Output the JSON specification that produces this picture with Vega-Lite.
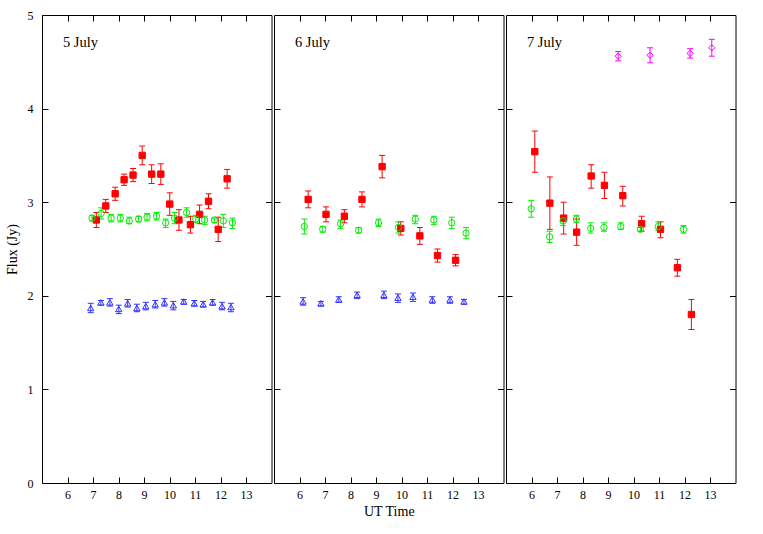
{
  "$schema": "https://vega.github.io/schema/vega-lite/v6.json",
  "background": "white",
  "padding": {"left": 4, "top": 8, "right": 30, "bottom": 5},
  "config": {
    "font": "Liberation Serif",
    "view": {"stroke": "black", "strokeWidth": 1, "fill": "transparent"},
    "axis": {"grid": false, "domain": false, "ticks": true, "tickOpacity": 1, "zindex": 1, "labelFontSize": 12, "labelColor": "black", "titleFontSize": 14, "titleFontWeight": "normal", "titleColor": "black", "tickColor": "black", "tickWidth": 1},
    "legend": {"orient": "none", "legendX": 91, "legendY": 388, "labelAlign": "right", "labelOffset": -30, "symbolSize": 40, "symbolStrokeWidth": 1, "labelFontSize": 12, "labelColor": "black", "rowPadding": 1.7, "padding": 0, "zindex": 1}
  },
  "data": {"values": [
    {"day":"5 July","source":"Sgr A*","t":7.13,"flux":2.81,"lo":2.73,"hi":2.89},
    {"day":"5 July","source":"Sgr A*","t":7.50,"flux":2.96,"lo":2.89,"hi":3.03},
    {"day":"5 July","source":"Sgr A*","t":7.87,"flux":3.09,"lo":3.02,"hi":3.16},
    {"day":"5 July","source":"Sgr A*","t":8.22,"flux":3.24,"lo":3.18,"hi":3.30},
    {"day":"5 July","source":"Sgr A*","t":8.57,"flux":3.29,"lo":3.22,"hi":3.36},
    {"day":"5 July","source":"Sgr A*","t":8.93,"flux":3.50,"lo":3.40,"hi":3.60},
    {"day":"5 July","source":"Sgr A*","t":9.30,"flux":3.30,"lo":3.20,"hi":3.40},
    {"day":"5 July","source":"Sgr A*","t":9.66,"flux":3.30,"lo":3.19,"hi":3.41},
    {"day":"5 July","source":"Sgr A*","t":10.01,"flux":2.98,"lo":2.86,"hi":3.10},
    {"day":"5 July","source":"Sgr A*","t":10.37,"flux":2.81,"lo":2.70,"hi":2.92},
    {"day":"5 July","source":"Sgr A*","t":10.82,"flux":2.76,"lo":2.67,"hi":2.85},
    {"day":"5 July","source":"Sgr A*","t":11.18,"flux":2.87,"lo":2.77,"hi":2.97},
    {"day":"5 July","source":"Sgr A*","t":11.53,"flux":3.01,"lo":2.93,"hi":3.09},
    {"day":"5 July","source":"Sgr A*","t":11.91,"flux":2.71,"lo":2.58,"hi":2.84},
    {"day":"5 July","source":"Sgr A*","t":12.26,"flux":3.25,"lo":3.15,"hi":3.35},
    {"day":"5 July","source":"1741-038","t":6.96,"flux":2.83,"lo":2.80,"hi":2.86},
    {"day":"5 July","source":"1741-038","t":7.32,"flux":2.88,"lo":2.82,"hi":2.94},
    {"day":"5 July","source":"1741-038","t":7.71,"flux":2.83,"lo":2.79,"hi":2.87},
    {"day":"5 July","source":"1741-038","t":8.07,"flux":2.83,"lo":2.79,"hi":2.87},
    {"day":"5 July","source":"1741-038","t":8.42,"flux":2.80,"lo":2.77,"hi":2.84},
    {"day":"5 July","source":"1741-038","t":8.79,"flux":2.82,"lo":2.79,"hi":2.85},
    {"day":"5 July","source":"1741-038","t":9.12,"flux":2.84,"lo":2.80,"hi":2.88},
    {"day":"5 July","source":"1741-038","t":9.49,"flux":2.85,"lo":2.81,"hi":2.89},
    {"day":"5 July","source":"1741-038","t":9.85,"flux":2.78,"lo":2.73,"hi":2.82},
    {"day":"5 July","source":"1741-038","t":10.20,"flux":2.83,"lo":2.77,"hi":2.89},
    {"day":"5 July","source":"1741-038","t":10.67,"flux":2.89,"lo":2.84,"hi":2.94},
    {"day":"5 July","source":"1741-038","t":11.03,"flux":2.82,"lo":2.78,"hi":2.86},
    {"day":"5 July","source":"1741-038","t":11.38,"flux":2.81,"lo":2.76,"hi":2.85},
    {"day":"5 July","source":"1741-038","t":11.76,"flux":2.81,"lo":2.78,"hi":2.83},
    {"day":"5 July","source":"1741-038","t":12.11,"flux":2.80,"lo":2.73,"hi":2.87},
    {"day":"5 July","source":"1741-038","t":12.47,"flux":2.78,"lo":2.72,"hi":2.83},
    {"day":"5 July","source":"1749+096","t":6.91,"flux":1.87,"lo":1.82,"hi":1.92},
    {"day":"5 July","source":"1749+096","t":7.31,"flux":1.93,"lo":1.90,"hi":1.95},
    {"day":"5 July","source":"1749+096","t":7.66,"flux":1.93,"lo":1.89,"hi":1.97},
    {"day":"5 July","source":"1749+096","t":8.01,"flux":1.86,"lo":1.81,"hi":1.90},
    {"day":"5 July","source":"1749+096","t":8.36,"flux":1.92,"lo":1.88,"hi":1.96},
    {"day":"5 July","source":"1749+096","t":8.72,"flux":1.87,"lo":1.83,"hi":1.91},
    {"day":"5 July","source":"1749+096","t":9.07,"flux":1.89,"lo":1.85,"hi":1.93},
    {"day":"5 July","source":"1749+096","t":9.44,"flux":1.91,"lo":1.87,"hi":1.95},
    {"day":"5 July","source":"1749+096","t":9.80,"flux":1.93,"lo":1.89,"hi":1.97},
    {"day":"5 July","source":"1749+096","t":10.15,"flux":1.90,"lo":1.85,"hi":1.94},
    {"day":"5 July","source":"1749+096","t":10.56,"flux":1.94,"lo":1.91,"hi":1.96},
    {"day":"5 July","source":"1749+096","t":10.97,"flux":1.92,"lo":1.89,"hi":1.95},
    {"day":"5 July","source":"1749+096","t":11.32,"flux":1.91,"lo":1.88,"hi":1.94},
    {"day":"5 July","source":"1749+096","t":11.69,"flux":1.93,"lo":1.90,"hi":1.96},
    {"day":"5 July","source":"1749+096","t":12.06,"flux":1.89,"lo":1.85,"hi":1.93},
    {"day":"5 July","source":"1749+096","t":12.41,"flux":1.88,"lo":1.83,"hi":1.92},
    {"day":"6 July","source":"Sgr A*","t":6.34,"flux":3.03,"lo":2.94,"hi":3.12},
    {"day":"6 July","source":"Sgr A*","t":7.04,"flux":2.87,"lo":2.79,"hi":2.95},
    {"day":"6 July","source":"Sgr A*","t":7.76,"flux":2.85,"lo":2.78,"hi":2.92},
    {"day":"6 July","source":"Sgr A*","t":8.45,"flux":3.03,"lo":2.95,"hi":3.11},
    {"day":"6 July","source":"Sgr A*","t":9.24,"flux":3.38,"lo":3.26,"hi":3.50},
    {"day":"6 July","source":"Sgr A*","t":9.97,"flux":2.72,"lo":2.65,"hi":2.79},
    {"day":"6 July","source":"Sgr A*","t":10.72,"flux":2.64,"lo":2.55,"hi":2.73},
    {"day":"6 July","source":"Sgr A*","t":11.41,"flux":2.43,"lo":2.36,"hi":2.50},
    {"day":"6 July","source":"Sgr A*","t":12.12,"flux":2.38,"lo":2.32,"hi":2.44},
    {"day":"6 July","source":"1741-038","t":6.19,"flux":2.74,"lo":2.66,"hi":2.82},
    {"day":"6 July","source":"1741-038","t":6.91,"flux":2.71,"lo":2.68,"hi":2.74},
    {"day":"6 July","source":"1741-038","t":7.61,"flux":2.77,"lo":2.72,"hi":2.81},
    {"day":"6 July","source":"1741-038","t":8.32,"flux":2.70,"lo":2.67,"hi":2.73},
    {"day":"6 July","source":"1741-038","t":9.10,"flux":2.78,"lo":2.74,"hi":2.82},
    {"day":"6 July","source":"1741-038","t":9.88,"flux":2.73,"lo":2.67,"hi":2.79},
    {"day":"6 July","source":"1741-038","t":10.54,"flux":2.82,"lo":2.77,"hi":2.86},
    {"day":"6 July","source":"1741-038","t":11.27,"flux":2.81,"lo":2.76,"hi":2.85},
    {"day":"6 July","source":"1741-038","t":11.97,"flux":2.78,"lo":2.72,"hi":2.84},
    {"day":"6 July","source":"1741-038","t":12.53,"flux":2.67,"lo":2.61,"hi":2.73},
    {"day":"6 July","source":"1749+096","t":6.14,"flux":1.94,"lo":1.90,"hi":1.98},
    {"day":"6 July","source":"1749+096","t":6.84,"flux":1.92,"lo":1.89,"hi":1.94},
    {"day":"6 July","source":"1749+096","t":7.54,"flux":1.96,"lo":1.93,"hi":1.99},
    {"day":"6 July","source":"1749+096","t":8.26,"flux":2.01,"lo":1.97,"hi":2.04},
    {"day":"6 July","source":"1749+096","t":9.31,"flux":2.01,"lo":1.97,"hi":2.05},
    {"day":"6 July","source":"1749+096","t":9.86,"flux":1.98,"lo":1.93,"hi":2.02},
    {"day":"6 July","source":"1749+096","t":10.45,"flux":1.99,"lo":1.94,"hi":2.03},
    {"day":"6 July","source":"1749+096","t":11.21,"flux":1.96,"lo":1.92,"hi":1.99},
    {"day":"6 July","source":"1749+096","t":11.90,"flux":1.96,"lo":1.92,"hi":1.99},
    {"day":"6 July","source":"1749+096","t":12.45,"flux":1.94,"lo":1.91,"hi":1.96},
    {"day":"7 July","source":"Sgr A*","t":6.13,"flux":3.54,"lo":3.32,"hi":3.76},
    {"day":"7 July","source":"Sgr A*","t":6.72,"flux":2.99,"lo":2.71,"hi":3.27},
    {"day":"7 July","source":"Sgr A*","t":7.26,"flux":2.83,"lo":2.66,"hi":3.00},
    {"day":"7 July","source":"Sgr A*","t":7.77,"flux":2.68,"lo":2.54,"hi":2.82},
    {"day":"7 July","source":"Sgr A*","t":8.34,"flux":3.28,"lo":3.15,"hi":3.40},
    {"day":"7 July","source":"Sgr A*","t":8.86,"flux":3.18,"lo":3.04,"hi":3.32},
    {"day":"7 July","source":"Sgr A*","t":9.58,"flux":3.07,"lo":2.96,"hi":3.17},
    {"day":"7 July","source":"Sgr A*","t":10.32,"flux":2.77,"lo":2.69,"hi":2.85},
    {"day":"7 July","source":"Sgr A*","t":11.06,"flux":2.71,"lo":2.62,"hi":2.79},
    {"day":"7 July","source":"Sgr A*","t":11.72,"flux":2.30,"lo":2.21,"hi":2.39},
    {"day":"7 July","source":"Sgr A*","t":12.27,"flux":1.80,"lo":1.64,"hi":1.96},
    {"day":"7 July","source":"1741-038","t":5.99,"flux":2.93,"lo":2.84,"hi":3.02},
    {"day":"7 July","source":"1741-038","t":6.71,"flux":2.63,"lo":2.57,"hi":2.69},
    {"day":"7 July","source":"1741-038","t":7.24,"flux":2.80,"lo":2.75,"hi":2.85},
    {"day":"7 July","source":"1741-038","t":7.76,"flux":2.82,"lo":2.78,"hi":2.86},
    {"day":"7 July","source":"1741-038","t":8.32,"flux":2.72,"lo":2.67,"hi":2.78},
    {"day":"7 July","source":"1741-038","t":8.84,"flux":2.73,"lo":2.69,"hi":2.78},
    {"day":"7 July","source":"1741-038","t":9.50,"flux":2.74,"lo":2.71,"hi":2.78},
    {"day":"7 July","source":"1741-038","t":10.27,"flux":2.71,"lo":2.69,"hi":2.73},
    {"day":"7 July","source":"1741-038","t":10.97,"flux":2.74,"lo":2.70,"hi":2.79},
    {"day":"7 July","source":"1741-038","t":11.96,"flux":2.71,"lo":2.67,"hi":2.75},
    {"day":"7 July","source":"1921-293","t":9.40,"flux":4.56,"lo":4.51,"hi":4.61},
    {"day":"7 July","source":"1921-293","t":10.65,"flux":4.57,"lo":4.49,"hi":4.65},
    {"day":"7 July","source":"1921-293","t":12.22,"flux":4.59,"lo":4.54,"hi":4.64},
    {"day":"7 July","source":"1921-293","t":13.07,"flux":4.65,"lo":4.56,"hi":4.74}
  ]},
  "spacing": 0,
  "hconcat": [
    {
      "width": 229.5, "height": 468,
      "transform": [{"filter": "datum.day === '5 July'"}],
      "resolve": {"scale": {"x": "independent", "y": "independent"}},
      "layer": [
        {"mark": {"type": "rule", "strokeWidth": 1},
         "encoding": {
           "x": {"field": "t", "type": "quantitative", "scale": {"domain": [5, 14]}, "axis": {"orient": "bottom", "values": [6,7,8,9,10,11,12,13], "format": "d", "ticks": true, "tickSize": 6, "offset": -6, "labelPadding": 6, "title": null}},
           "y": {"field": "lo", "type": "quantitative", "scale": {"domain": [0, 5]}, "axis": {"orient": "left", "values": [0,1,2,3,4,5], "format": "d", "ticks": true, "tickSize": 6, "offset": -6, "labelPadding": 9, "title": "Flux (Jy)", "titlePadding": 8}},
           "y2": {"field": "hi"},
           "color": {"field": "source", "type": "nominal", "scale": {"domain": ["Sgr A*", "1741-038", "1749+096", "1921-293"], "range": ["#ff0000", "#00ee00", "#3333ff", "#ff00ff"]}, "legend": null}}},
        {"mark": {"type": "tick", "orient": "horizontal", "size": 6, "thickness": 1, "opacity": 1},
         "encoding": {
           "x": {"field": "t", "type": "quantitative", "scale": {"domain": [5, 14]}, "axis": null},
           "y": {"field": "lo", "type": "quantitative", "scale": {"domain": [0, 5]}, "axis": null},
           "color": {"field": "source", "type": "nominal", "legend": null}}},
        {"mark": {"type": "tick", "orient": "horizontal", "size": 6, "thickness": 1, "opacity": 1},
         "encoding": {
           "x": {"field": "t", "type": "quantitative", "scale": {"domain": [5, 14]}, "axis": null},
           "y": {"field": "hi", "type": "quantitative", "scale": {"domain": [0, 5]}, "axis": null},
           "color": {"field": "source", "type": "nominal", "legend": null}}},
        {"mark": {"type": "point", "size": 40, "strokeWidth": 1, "opacity": 1},
         "encoding": {
           "x": {"field": "t", "type": "quantitative", "scale": {"domain": [5, 14]}, "axis": null},
           "y": {"field": "flux", "type": "quantitative", "scale": {"domain": [0, 5]}, "axis": null},
           "stroke": {"field": "source", "type": "nominal", "scale": {"domain": ["Sgr A*", "1741-038", "1749+096", "1921-293"], "range": ["#ff0000", "#00ee00", "#3333ff", "#ff00ff"]}, "legend": {"orient": "none", "legendX": 91, "legendY": 388, "title": null}},
           "fill": {"field": "source", "type": "nominal", "scale": {"domain": ["Sgr A*", "1741-038", "1749+096", "1921-293"], "range": ["#ff0000", "transparent", "transparent", "transparent"]}, "legend": {"orient": "none", "legendX": 91, "legendY": 388, "title": null}},
           "shape": {"field": "source", "type": "nominal", "scale": {"domain": ["Sgr A*", "1741-038", "1749+096", "1921-293"], "range": ["square", "circle", "triangle-up", "diamond"]}, "legend": {"orient": "none", "legendX": 91, "legendY": 388, "title": null}}}},
        {"mark": {"type": "point", "opacity": 0},
         "encoding": {
           "x": {"field": "t", "type": "quantitative", "scale": {"domain": [5, 14]}, "axis": {"orient": "top", "values": [6,7,8,9,10,11,12,13], "labels": false, "ticks": true, "tickSize": 6, "offset": -6, "title": null}},
           "y": {"field": "flux", "type": "quantitative", "scale": {"domain": [0, 5]}, "axis": {"orient": "right", "values": [1,2,3,4], "labels": false, "ticks": true, "tickSize": 6, "offset": -6, "title": null}}}},
        {"data": {"values": [{"label": "5 July"}]},
         "mark": {"type": "text", "align": "left", "baseline": "alphabetic", "fontSize": 14.5, "color": "black"},
         "encoding": {
           "x": {"datum": 5.82, "type": "quantitative", "scale": {"domain": [5, 14]}, "axis": null},
           "y": {"datum": 4.66, "type": "quantitative", "scale": {"domain": [0, 5]}, "axis": null},
           "text": {"field": "label"}}}
      ]
    },
    {
      "width": 229.5, "height": 468,
      "transform": [{"filter": "datum.day === '6 July'"}],
      "resolve": {"scale": {"x": "independent", "y": "independent"}},
      "layer": [
        {"mark": {"type": "rule", "strokeWidth": 1},
         "encoding": {
           "x": {"field": "t", "type": "quantitative", "scale": {"domain": [5, 14]}, "axis": {"orient": "bottom", "values": [6,7,8,9,10,11,12,13], "format": "d", "ticks": true, "tickSize": 6, "offset": -6, "labelPadding": 6, "title": "UT Time", "titlePadding": 4}},
           "y": {"field": "lo", "type": "quantitative", "scale": {"domain": [0, 5]}, "axis": {"orient": "left", "values": [1,2,3,4], "labels": false, "ticks": true, "tickSize": 6, "offset": -6, "title": null}},
           "y2": {"field": "hi"},
           "color": {"field": "source", "type": "nominal", "scale": {"domain": ["Sgr A*", "1741-038", "1749+096", "1921-293"], "range": ["#ff0000", "#00ee00", "#3333ff", "#ff00ff"]}, "legend": null}}},
        {"mark": {"type": "tick", "orient": "horizontal", "size": 6, "thickness": 1, "opacity": 1},
         "encoding": {
           "x": {"field": "t", "type": "quantitative", "scale": {"domain": [5, 14]}, "axis": null},
           "y": {"field": "lo", "type": "quantitative", "scale": {"domain": [0, 5]}, "axis": null},
           "color": {"field": "source", "type": "nominal", "legend": null}}},
        {"mark": {"type": "tick", "orient": "horizontal", "size": 6, "thickness": 1, "opacity": 1},
         "encoding": {
           "x": {"field": "t", "type": "quantitative", "scale": {"domain": [5, 14]}, "axis": null},
           "y": {"field": "hi", "type": "quantitative", "scale": {"domain": [0, 5]}, "axis": null},
           "color": {"field": "source", "type": "nominal", "legend": null}}},
        {"mark": {"type": "point", "size": 40, "strokeWidth": 1, "opacity": 1},
         "encoding": {
           "x": {"field": "t", "type": "quantitative", "scale": {"domain": [5, 14]}, "axis": null},
           "y": {"field": "flux", "type": "quantitative", "scale": {"domain": [0, 5]}, "axis": null},
           "stroke": {"field": "source", "type": "nominal", "scale": {"domain": ["Sgr A*", "1741-038", "1749+096", "1921-293"], "range": ["#ff0000", "#00ee00", "#3333ff", "#ff00ff"]}},
           "fill": {"field": "source", "type": "nominal", "scale": {"domain": ["Sgr A*", "1741-038", "1749+096", "1921-293"], "range": ["#ff0000", "transparent", "transparent", "transparent"]}},
           "shape": {"field": "source", "type": "nominal", "scale": {"domain": ["Sgr A*", "1741-038", "1749+096", "1921-293"], "range": ["square", "circle", "triangle-up", "diamond"]}}}},
        {"mark": {"type": "point", "opacity": 0},
         "encoding": {
           "x": {"field": "t", "type": "quantitative", "scale": {"domain": [5, 14]}, "axis": {"orient": "top", "values": [6,7,8,9,10,11,12,13], "labels": false, "ticks": true, "tickSize": 6, "offset": -6, "title": null}},
           "y": {"field": "flux", "type": "quantitative", "scale": {"domain": [0, 5]}, "axis": {"orient": "right", "values": [1,2,3,4], "labels": false, "ticks": true, "tickSize": 6, "offset": -6, "title": null}}}},
        {"data": {"values": [{"label": "6 July"}]},
         "mark": {"type": "text", "align": "left", "baseline": "alphabetic", "fontSize": 14.5, "color": "black"},
         "encoding": {
           "x": {"datum": 5.82, "type": "quantitative", "scale": {"domain": [5, 14]}, "axis": null},
           "y": {"datum": 4.66, "type": "quantitative", "scale": {"domain": [0, 5]}, "axis": null},
           "text": {"field": "label"}}}
      ]
    },
    {
      "width": 229.5, "height": 468,
      "transform": [{"filter": "datum.day === '7 July'"}],
      "resolve": {"scale": {"x": "independent", "y": "independent"}},
      "layer": [
        {"mark": {"type": "rule", "strokeWidth": 1},
         "encoding": {
           "x": {"field": "t", "type": "quantitative", "scale": {"domain": [5, 14]}, "axis": {"orient": "bottom", "values": [6,7,8,9,10,11,12,13], "format": "d", "ticks": true, "tickSize": 6, "offset": -6, "labelPadding": 6, "title": null}},
           "y": {"field": "lo", "type": "quantitative", "scale": {"domain": [0, 5]}, "axis": {"orient": "left", "values": [1,2,3,4], "labels": false, "ticks": true, "tickSize": 6, "offset": -6, "title": null}},
           "y2": {"field": "hi"},
           "color": {"field": "source", "type": "nominal", "scale": {"domain": ["Sgr A*", "1741-038", "1749+096", "1921-293"], "range": ["#ff0000", "#00ee00", "#3333ff", "#ff00ff"]}, "legend": null}}},
        {"mark": {"type": "tick", "orient": "horizontal", "size": 6, "thickness": 1, "opacity": 1},
         "encoding": {
           "x": {"field": "t", "type": "quantitative", "scale": {"domain": [5, 14]}, "axis": null},
           "y": {"field": "lo", "type": "quantitative", "scale": {"domain": [0, 5]}, "axis": null},
           "color": {"field": "source", "type": "nominal", "legend": null}}},
        {"mark": {"type": "tick", "orient": "horizontal", "size": 6, "thickness": 1, "opacity": 1},
         "encoding": {
           "x": {"field": "t", "type": "quantitative", "scale": {"domain": [5, 14]}, "axis": null},
           "y": {"field": "hi", "type": "quantitative", "scale": {"domain": [0, 5]}, "axis": null},
           "color": {"field": "source", "type": "nominal", "legend": null}}},
        {"mark": {"type": "point", "size": 40, "strokeWidth": 1, "opacity": 1},
         "encoding": {
           "x": {"field": "t", "type": "quantitative", "scale": {"domain": [5, 14]}, "axis": null},
           "y": {"field": "flux", "type": "quantitative", "scale": {"domain": [0, 5]}, "axis": null},
           "stroke": {"field": "source", "type": "nominal", "scale": {"domain": ["Sgr A*", "1741-038", "1749+096", "1921-293"], "range": ["#ff0000", "#00ee00", "#3333ff", "#ff00ff"]}},
           "fill": {"field": "source", "type": "nominal", "scale": {"domain": ["Sgr A*", "1741-038", "1749+096", "1921-293"], "range": ["#ff0000", "transparent", "transparent", "transparent"]}},
           "shape": {"field": "source", "type": "nominal", "scale": {"domain": ["Sgr A*", "1741-038", "1749+096", "1921-293"], "range": ["square", "circle", "triangle-up", "diamond"]}}}},
        {"mark": {"type": "point", "opacity": 0},
         "encoding": {
           "x": {"field": "t", "type": "quantitative", "scale": {"domain": [5, 14]}, "axis": {"orient": "top", "values": [6,7,8,9,10,11,12,13], "labels": false, "ticks": true, "tickSize": 6, "offset": -6, "title": null}},
           "y": {"field": "flux", "type": "quantitative", "scale": {"domain": [0, 5]}, "axis": {"orient": "right", "values": [1,2,3,4], "labels": false, "ticks": true, "tickSize": 6, "offset": -6, "title": null}}}},
        {"data": {"values": [{"label": "7 July"}]},
         "mark": {"type": "text", "align": "left", "baseline": "alphabetic", "fontSize": 14.5, "color": "black"},
         "encoding": {
           "x": {"datum": 5.82, "type": "quantitative", "scale": {"domain": [5, 14]}, "axis": null},
           "y": {"datum": 4.66, "type": "quantitative", "scale": {"domain": [0, 5]}, "axis": null},
           "text": {"field": "label"}}}
      ]
    }
  ]
}
